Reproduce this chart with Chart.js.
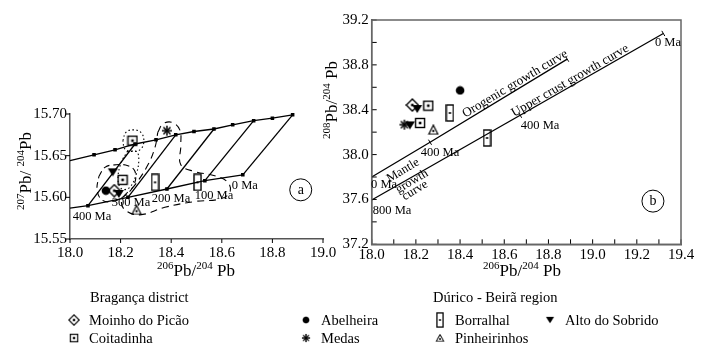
<!DOCTYPE html>
<html>
<head>
<meta charset="utf-8">
<script src="https://cdn.jsdelivr.net/npm/chart.js@4.4.1/dist/chart.umd.min.js"></script>
<style>
    body { margin: 0; background: #fff; width: 701px; height: 349px; overflow: hidden; position: relative;
           font-family: "Liberation Serif", "Times New Roman", serif; color: #000; }
    #wrapA { position: absolute; left: 0; top: 0; }
    #wrapB { position: absolute; left: 300px; top: 0; }
    .lg { position: absolute; font-size: 14.5px; line-height: 16px; white-space: nowrap; }
    .mk { position: absolute; }
</style>
</head>
<body>
<div id="wrapA"><canvas id="chartA" width="350" height="290"></canvas></div>
<div id="wrapB"><canvas id="chartB" width="401" height="290"></canvas></div>
<div id="legend"></div>
<script>
const SERIF = '"Liberation Serif", "Times New Roman", serif';

// ---- panel (a): 207Pb/204Pb vs 206Pb/204Pb ----
const ageLabels = ['400 Ma', '300 Ma', '200 Ma', '100 Ma', '0 Ma'];
const isoLowerX = [18.071, 18.229, 18.383, 18.533, 18.683];
const isoLowerY = [15.590, 15.600, 15.610, 15.620, 15.627];
const isoUpperX = [18.257, 18.418, 18.569, 18.726, 18.880];
const isoUpperY = [15.664, 15.675, 15.682, 15.692, 15.699];
const upperCurveX = [18.0, 18.095, 18.178, 18.257, 18.340, 18.418, 18.490, 18.569, 18.643, 18.726, 18.800, 18.880];
const upperCurveY = [15.644, 15.651, 15.657, 15.664, 15.669, 15.675, 15.679, 15.682, 15.687, 15.692, 15.695, 15.699];
const lowerCurveX = [18.0, 18.071, 18.229, 18.383, 18.533, 18.683];
const lowerCurveY = [15.587, 15.590, 15.600, 15.610, 15.620, 15.627];
const ageLabelX = [18.087, 18.241, 18.399, 18.569, 18.691];
const ageLabelY = [15.577, 15.594, 15.598, 15.602, 15.614];

// sample fields drawn round the groups
const duricoFieldX = [18.347, 18.367, 18.403, 18.434, 18.438, 18.438, 18.493, 18.572, 18.624, 18.632, 18.592, 18.493, 18.375, 18.276, 18.217, 18.205, 18.257, 18.308, 18.336, 18.347];
const duricoFieldY = [15.678, 15.688, 15.690, 15.681, 15.663, 15.639, 15.631, 15.626, 15.618, 15.606, 15.598, 15.595, 15.588, 15.579, 15.585, 15.597, 15.615, 15.639, 15.660, 15.678];
const braganzaFieldX = [18.114, 18.138, 18.178, 18.229, 18.257, 18.253, 18.217, 18.166, 18.126, 18.107, 18.114];
const braganzaFieldY = [15.625, 15.636, 15.639, 15.638, 15.631, 15.615, 15.602, 15.595, 15.597, 15.609, 15.625];
const coitRingX = [18.209, 18.221, 18.249, 18.280, 18.292, 18.280, 18.249, 18.217, 18.209];
const coitRingY = [15.668, 15.678, 15.681, 15.678, 15.668, 15.658, 15.655, 15.658, 15.668];
const coitFieldX = [18.226, 18.262, 18.272, 18.262, 18.236, 18.205, 18.190, 18.200, 18.226];
const coitFieldY = [15.655, 15.655, 15.646, 15.628, 15.612, 15.610, 15.620, 15.640, 15.655];

// ---- panel (b): 208Pb/204Pb vs 206Pb/204Pb ----
const orogenicX = [18.0, 18.264, 18.885];
const orogenicY = [37.80, 38.11, 38.851];
const upperCrustX = [18.0, 18.672, 19.32];
const upperCrustY = [37.595, 38.351, 39.08];

// ---- samples ----
const localities = ['Moinho do Picão', 'Coitadinha', 'Abelheira', 'Medas', 'Borralhal', 'Pinheirinhos', 'Alto do Sobrido'];
const markerKinds = ['diamond', 'square', 'circle', 'star', 'rect', 'triUp', 'triDown'];
const pbAx = [[18.175], [18.247, 18.208], [18.142], [18.383], [18.336, 18.504], [18.263], [18.169, 18.193]];
const pbAy = [[15.608], [15.668, 15.621], [15.608], [15.680], [15.618, 15.618], [15.585], [15.630, 15.604]];
const pbBx = [[18.184], [18.256, 18.219], [18.400], [18.148], [18.354, 18.522], [18.279], [18.206, 18.173]];
const pbBy = [[38.442], [38.436, 38.282], [38.572], [38.267], [38.371, 38.148], [38.222], [38.406, 38.260]];

const pts = (xs, ys) => xs.map((x, i) => ({ x: x, y: ys[i] }));

function makeMarker(kind) {
    const sizes = { diamond: [14, 14], square: [12, 12], rect: [9, 18], circle: [10, 10], star: [12, 12], triDown: [12, 10], triUp: [12, 11] };
    const c = document.createElement('canvas');
    c.width = sizes[kind][0];
    c.height = sizes[kind][1];
    const g = c.getContext('2d');
    const w = c.width, h = c.height, cx = w / 2, cy = h / 2;
    g.strokeStyle = '#000';
    g.fillStyle = '#000';
    g.lineWidth = 1.4;
    if (kind === 'diamond') {
        g.beginPath(); g.moveTo(cx, 1); g.lineTo(w - 1, cy); g.lineTo(cx, h - 1); g.lineTo(1, cy); g.closePath(); g.stroke();
        g.fillRect(cx - 1.3, cy - 1.3, 2.6, 2.6);
    } else if (kind === 'square') {
        g.strokeRect(1.5, 1.5, w - 3, h - 3);
        g.fillRect(cx - 1.3, cy - 1.3, 2.6, 2.6);
    } else if (kind === 'rect') {
        g.strokeRect(1, 1, w - 2, h - 2);
        g.fillRect(cx - 1, cy - 1, 2, 2);
    } else if (kind === 'circle') {
        g.beginPath(); g.arc(cx, cy, 4.3, 0, Math.PI * 2); g.fill();
    } else if (kind === 'star') {
        g.lineWidth = 1.5;
        for (let k = 0; k < 4; k++) {
            const a = k * Math.PI / 4;
            g.beginPath(); g.moveTo(cx - 5 * Math.cos(a), cy - 5 * Math.sin(a)); g.lineTo(cx + 5 * Math.cos(a), cy + 5 * Math.sin(a)); g.stroke();
        }
    } else if (kind === 'triDown') {
        g.beginPath(); g.moveTo(1, 1); g.lineTo(w - 1, 1); g.lineTo(cx, h - 1); g.closePath(); g.fill();
    } else if (kind === 'triUp') {
        g.lineWidth = 1.2;
        g.beginPath(); g.moveTo(cx, 1); g.lineTo(w - 1.5, h - 1); g.lineTo(1.5, h - 1); g.closePath(); g.stroke();
        g.fillRect(cx - 1, h * 0.62 - 1, 2, 2);
    }
    return c;
}

function sampleSets(xs, ys) {
    return localities.map((name, i) => ({
        label: name,
        data: pts(xs[i], ys[i]),
        pointStyle: makeMarker(markerKinds[i]),
        pointRadius: 6,
        showLine: false,
        clip: false
    }));
}

function lineSet(data, extra) {
    return Object.assign({
        data: data, showLine: true, borderColor: '#000', borderWidth: 1.3,
        pointRadius: 0, backgroundColor: '#000', clip: false
    }, extra || {});
}

// superscripted isotope ratio titles
function drawIso(ctx, x, y, parts, rot) {
    const MAIN = '17px ' + SERIF, SUP = '11px ' + SERIF;
    ctx.save();
    ctx.translate(x, y);
    if (rot) ctx.rotate(rot);
    ctx.fillStyle = '#000';
    ctx.textAlign = 'left';
    ctx.textBaseline = 'alphabetic';
    let total = 0;
    parts.forEach(p => { ctx.font = p[1] ? SUP : MAIN; total += ctx.measureText(p[0]).width; });
    let cx = -total / 2;
    parts.forEach(p => {
        ctx.font = p[1] ? SUP : MAIN;
        ctx.fillText(p[0], cx, p[1] ? -1 : 6);
        cx += ctx.measureText(p[0]).width;
    });
    ctx.restore();
}

const notesPlugin = {
    id: 'notes',
    afterDatasetsDraw(chart, args, opts) {
        const ctx = chart.ctx, xs = chart.scales.x, ys = chart.scales.y;
        ctx.save();
        ctx.strokeStyle = '#000';
        ctx.fillStyle = '#000';
        ctx.lineWidth = 1;
        // tick marks
        const len = opts.tickLen;
        xs.ticks.forEach(t => {
            const px = xs.getPixelForValue(t.value);
            ctx.beginPath(); ctx.moveTo(px, ys.bottom); ctx.lineTo(px, ys.bottom - len); ctx.stroke();
        });
        ys.ticks.forEach(t => {
            const py = ys.getPixelForValue(t.value);
            ctx.beginPath(); ctx.moveTo(xs.left, py); ctx.lineTo(xs.left + len, py); ctx.stroke();
        });
        if (opts.box) {
            ctx.strokeStyle = '#666';
            ctx.lineWidth = 1.5;
            const a = chart.chartArea;
            ctx.strokeRect(a.left, a.top, a.right - a.left, a.bottom - a.top);
        }
        ctx.strokeStyle = '#000';
        ctx.lineWidth = 1;
        (opts.items || []).forEach(it => {
            const px = xs.getPixelForValue(it.x), py = ys.getPixelForValue(it.y);
            if (it.circle) {
                ctx.beginPath(); ctx.arc(px, py, it.r, 0, Math.PI * 2); ctx.stroke();
            }
            ctx.save();
            ctx.translate(px, py);
            ctx.rotate((it.angle || 0) * Math.PI / 180);
            ctx.font = it.size + 'px ' + SERIF;
            ctx.textAlign = 'center';
            ctx.textBaseline = 'middle';
            ctx.fillText(it.text, 0, 0);
            ctx.restore();
        });
        (opts.titles || []).forEach(t => drawIso(ctx, t.x, t.y, t.parts, t.rot));
        ctx.restore();
    }
};

function axes(xmin, xmax, xstep, xfmt, ymin, ymax, ystep, yfmt, xh, yw, xpad, bcolor) {
    const tick = { font: { family: SERIF, size: 15 }, color: '#000', maxRotation: 0, autoSkip: false };
    return {
        x: {
            type: 'linear', min: xmin, max: xmax,
            ticks: Object.assign({ stepSize: xstep, callback: xfmt, padding: xpad }, tick),
            grid: { display: false, drawTicks: false },
            border: { display: true, color: bcolor, width: 1.5 },
            afterFit: s => { s.height = xh; }
        },
        y: {
            type: 'linear', min: ymin, max: ymax,
            ticks: Object.assign({ stepSize: ystep, callback: yfmt, padding: 3 }, tick),
            grid: { display: false, drawTicks: false },
            border: { display: true, color: bcolor, width: 1.5 },
            afterFit: s => { s.width = yw; }
        }
    };
}

// panel (a)
const setsA = [
    lineSet(pts(upperCurveX, upperCurveY), { pointRadius: upperCurveX.map((v, i) => i === 0 ? 0 : 1.6), pointStyle: 'rect' }),
    lineSet(pts(lowerCurveX, lowerCurveY), { pointRadius: lowerCurveX.map((v, i) => i === 0 ? 0 : 1.6), pointStyle: 'rect' })
];
isoLowerX.forEach((x, i) => {
    setsA.push(lineSet([{ x: x, y: isoLowerY[i] }, { x: isoUpperX[i], y: isoUpperY[i] }]));
});
setsA.push(lineSet(pts(duricoFieldX, duricoFieldY), { borderDash: [7, 5], borderWidth: 1.1, tension: 0.4 }));
setsA.push(lineSet(pts(braganzaFieldX, braganzaFieldY), { borderDash: [6, 4], borderWidth: 1.1, tension: 0.4 }));
setsA.push(lineSet(pts(coitRingX, coitRingY), { borderDash: [1.5, 2.5], borderWidth: 1.1, tension: 0.4 }));
setsA.push(lineSet(pts(coitFieldX, coitFieldY), { borderDash: [1.5, 2.5], borderWidth: 1.1, tension: 0.4 }));
sampleSets(pbAx, pbAy).forEach(s => setsA.push(s));

const notesA = ageLabels.map((t, i) => ({ x: ageLabelX[i], y: ageLabelY[i], text: t, size: 12.5 }));
notesA.push({ x: 18.912, y: 15.609, text: 'a', size: 14, circle: true, r: 11 });

new Chart(document.getElementById('chartA'), {
    type: 'scatter',
    data: { datasets: setsA },
    options: {
        responsive: false,
        animation: false,
        layout: { padding: { left: 10, right: 27, top: 114, bottom: 11 } },
        scales: axes(18, 19, 0.2, v => v.toFixed(1), 15.55, 15.70, 0.05, v => v.toFixed(2), 40, 60, 5, '#555'),
        plugins: {
            legend: { display: false },
            tooltip: { enabled: false },
            notes: {
                tickLen: -4,
                items: notesA,
                titles: [
                    { x: 196, y: 270, parts: [['206', true], ['Pb/', false], ['204', true], [' Pb', false]] },
                    { x: 25, y: 171, rot: -Math.PI / 2, parts: [['207', true], ['Pb/ ', false], ['204', true], ['Pb', false]] }
                ]
            }
        }
    },
    plugins: [notesPlugin]
});

// panel (b)
const setsB = [
    lineSet(pts(orogenicX, orogenicY), { pointRadius: [0, 3, 3], pointStyle: 'line', pointRotation: 59, pointBorderWidth: 1 }),
    lineSet(pts(upperCrustX, upperCrustY), { pointRadius: [0, 3, 3], pointStyle: 'line', pointRotation: 60, pointBorderWidth: 1 })
];
sampleSets(pbBx, pbBy).forEach(s => setsB.push(s));

new Chart(document.getElementById('chartB'), {
    type: 'scatter',
    data: { datasets: setsB },
    options: {
        responsive: false,
        animation: false,
        layout: { padding: { left: 11.7, right: 20, top: 20, bottom: 15.7 } },
        scales: axes(18, 19.4, 0.1, (v, i) => i % 2 === 0 ? v.toFixed(1) : '',
                     37.2, 39.2, 0.2, (v, i) => i % 2 === 0 ? v.toFixed(1) : '', 30, 60, 2, '#666'),
        plugins: {
            legend: { display: false },
            tooltip: { enabled: false },
            notes: {
                tickLen: 5,
                box: true,
                items: [
                    { x: 19.341, y: 38.996, text: '0 Ma', size: 12.5 },
                    { x: 18.762, y: 38.258, text: '400 Ma', size: 12.5 },
                    { x: 18.309, y: 38.018, text: '400 Ma', size: 12.5 },
                    { x: 18.056, y: 37.733, text: '0 Ma', size: 12.5 },
                    { x: 18.092, y: 37.502, text: '800 Ma', size: 12.5 },
                    { x: 18.649, y: 38.631, text: 'Orogenic growth curve', size: 13, angle: -31 },
                    { x: 18.898, y: 38.658, text: 'Upper crust growth curve', size: 13, angle: -30 },
                    { x: 18.142, y: 37.858, text: 'Mantle', size: 12.5, angle: -31 },
                    { x: 18.182, y: 37.760, text: 'growth', size: 12.5, angle: -31 },
                    { x: 18.196, y: 37.680, text: 'curve', size: 12.5, angle: -31 },
                    { x: 19.273, y: 37.585, text: 'b', size: 14, circle: true, r: 11 }
                ],
                titles: [
                    { x: 222, y: 270, parts: [['206', true], ['Pb/', false], ['204', true], [' Pb', false]] },
                    { x: 31, y: 100, rot: -Math.PI / 2, parts: [['208', true], ['Pb/', false], ['204', true], [' Pb', false]] }
                ]
            }
        }
    },
    plugins: [notesPlugin]
});

// shared legend under both panels
const legend = document.getElementById('legend');
function addText(text, left, cy) {
    const d = document.createElement('div');
    d.className = 'lg';
    d.textContent = text;
    d.style.left = left + 'px';
    d.style.top = (cy - 8) + 'px';
    legend.appendChild(d);
}
const legendX = [74, 74, 306, 306, 440, 440, 550];
const legendY = [320, 338, 320, 338, 320, 338, 320];
addText('Bragança district', 90, 297);
addText('Dúrico - Beirã region', 433, 297);
localities.forEach((name, i) => {
    const m = makeMarker(markerKinds[i]);
    m.className = 'mk';
    const scale = markerKinds[i] === 'rect' ? 0.85 : 0.8;
    m.style.width = (m.width * scale) + 'px';
    m.style.height = (m.height * scale) + 'px';
    m.style.left = (legendX[i] - m.width * scale / 2) + 'px';
    m.style.top = (legendY[i] - m.height * scale / 2) + 'px';
    legend.appendChild(m);
    addText(name, legendX[i] + 15, legendY[i]);
});
</script>
</body>
</html>
